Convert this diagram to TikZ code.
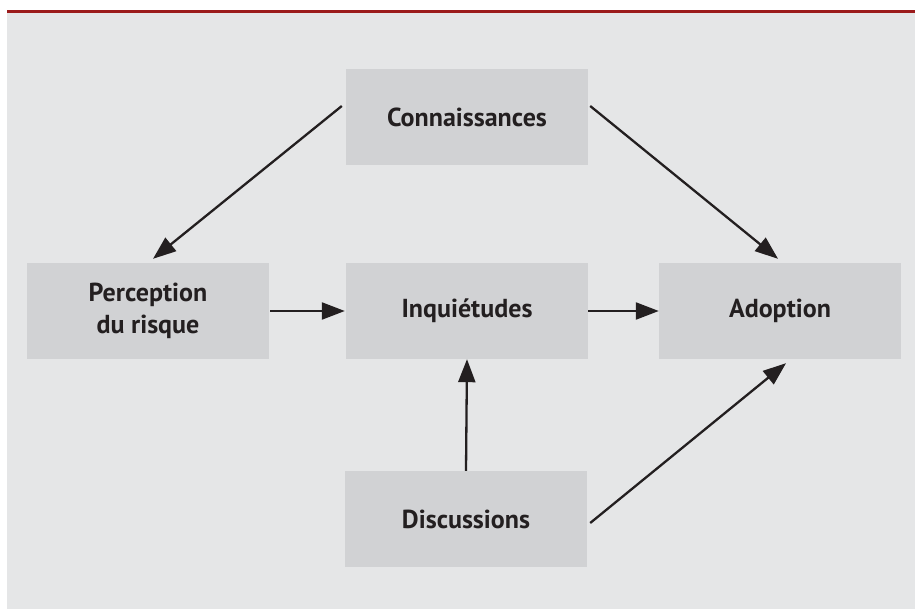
\documentclass[tikz,border=0pt]{standalone}
\usepackage{fontspec}
\setmainfont{PT Sans}
\usetikzlibrary{arrows.meta}
\definecolor{panelcol}{HTML}{E5E6E7}
\definecolor{boxcol}{HTML}{D1D2D4}
\definecolor{rulecol}{HTML}{9B1B1B}
\definecolor{textcol}{HTML}{231F20}

\begin{document}
\begin{tikzpicture}[x=1pt,y=-1pt,
	box/.style={fill=boxcol,minimum width=242pt,minimum height=96pt,inner sep=0pt,align=center,font=\fontsize{26}{32}\selectfont\bfseries,text=textcol},
	arr/.style={draw=textcol,line width=2.3pt,-{Triangle[length=23pt,width=17pt]}}
	]
\useasboundingbox (0,0) rectangle (915,609);
\fill[panelcol] (7,13) rectangle (915,609);
\fill[rulecol] (7,10) rectangle (915,13.5);
% boxes
\node[box] (conn) at (467,117.5) {Connaissances};
\node[box] (percep) at (148,311) {Perception\\du risque};
\node[box] (inquiet) at (467,311) {Inquiétudes};
\node[box] (adopt) at (780,311) {Adoption};
\node[box] (discuss) at (466,519) {Discussions};
% arrows
\draw[arr] ([shift={(-4,-11.5)}]conn.west) -- ([shift={(5,-4)}]percep.north);
\draw[arr] ([shift={(2,-11.5)}]conn.east) -- ([shift={(-2,-4)}]adopt.north);
\draw[arr] ([xshift=1pt]percep.east) -- ([xshift=-1pt]inquiet.west);
\draw[arr] (inquiet.east) -- (adopt.west);
\draw[arr] (discuss.north) -- (inquiet.south);
\draw[arr] ([shift={(3,4)}]discuss.east) -- ([shift={(6,4)}]adopt.south);
\end{tikzpicture}
\end{document}
